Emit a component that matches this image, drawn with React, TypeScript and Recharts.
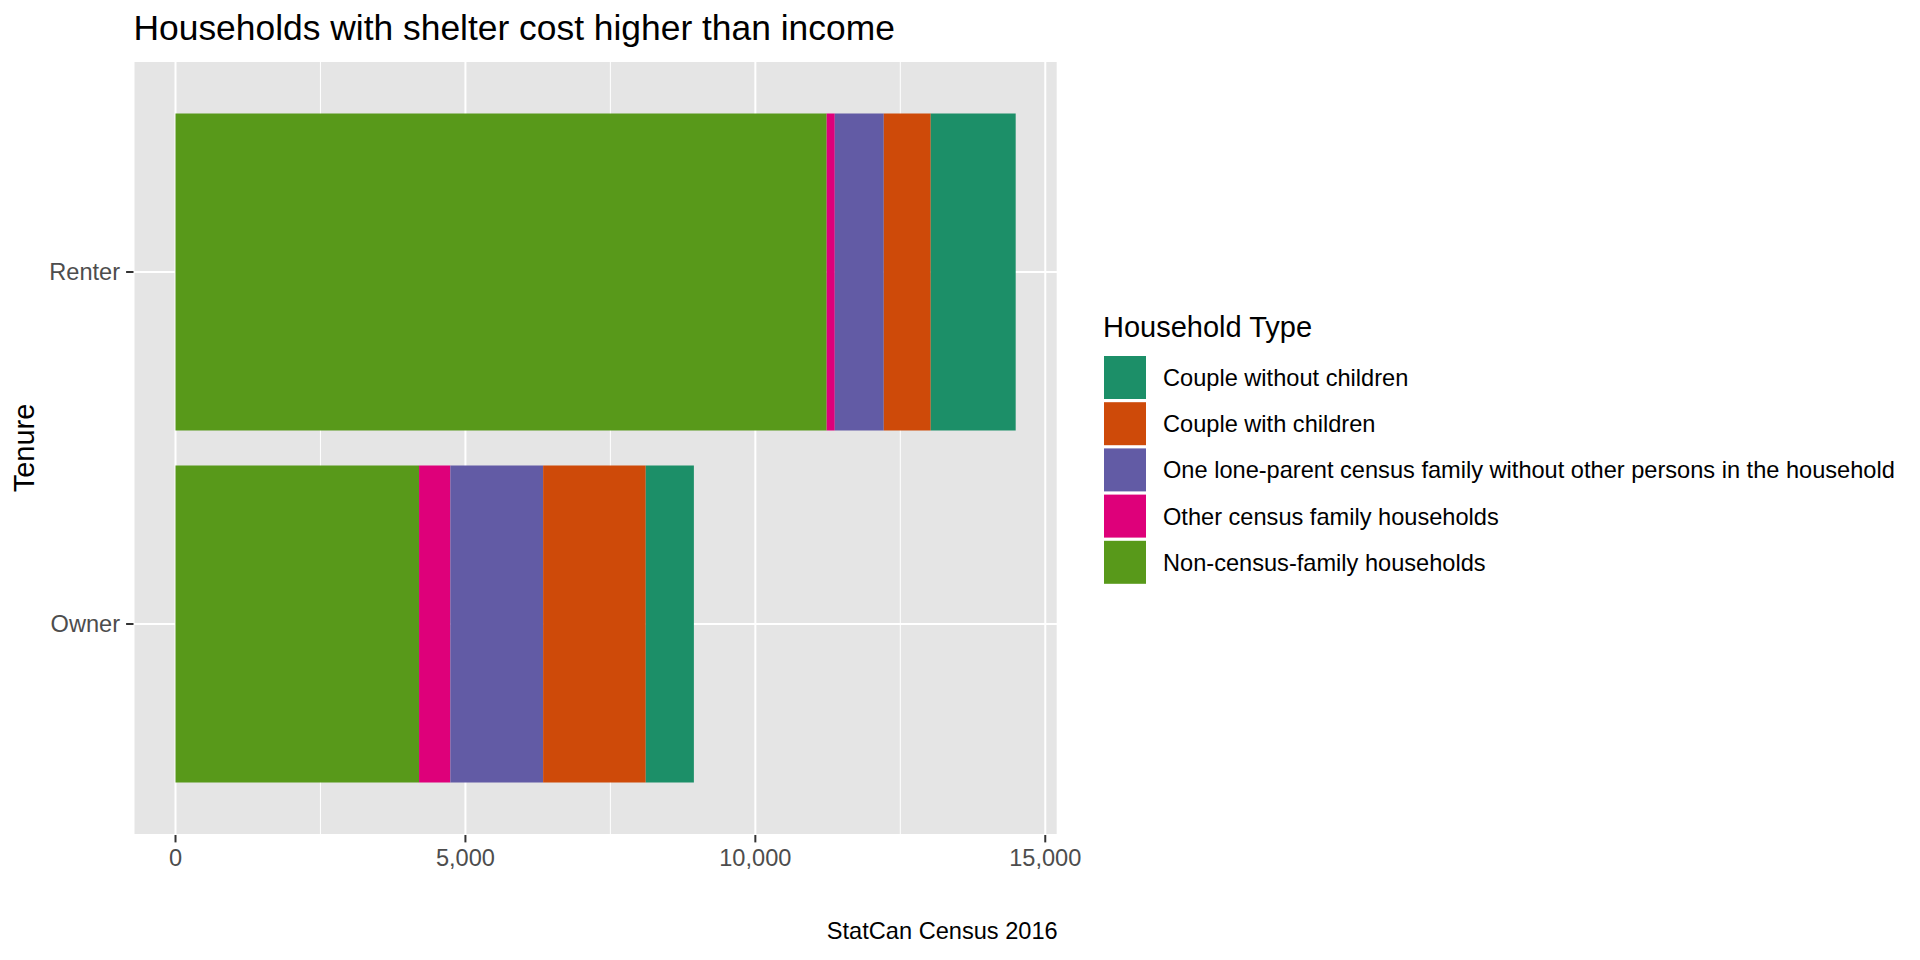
import { Bar, BarChart, CartesianGrid, XAxis, YAxis } from "recharts";

const tenures = ["Renter", "Owner"];
const nonCensusFamily = [11230, 4200];
const otherCensusFamily = [140, 540];
const loneParent = [845, 1600];
const coupleWithChildren = [810, 1770];
const coupleWithoutChildren = [1465, 830];

const xTicks = [0, 5000, 10000, 15000];
const xMinorTicks = [2500, 7500, 12500];

const FONT = '"Liberation Sans", Arial, Helvetica, sans-serif';

// stacking order: first entry sits next to zero
const series = [
  { key: "nonCensus", name: "Non-census-family households", color: "#58991A", values: nonCensusFamily },
  { key: "otherFamily", name: "Other census family households", color: "#DE007A", values: otherCensusFamily },
  { key: "loneParent", name: "One lone-parent census family without other persons in the household", color: "#625BA5", values: loneParent },
  { key: "coupleWith", name: "Couple with children", color: "#CE4A09", values: coupleWithChildren },
  { key: "coupleWithout", name: "Couple without children", color: "#1C8F68", values: coupleWithoutChildren },
];
const legendItems = [...series].reverse();

const data = tenures.map((tenure, i) => {
  const row: Record<string, string | number> = { tenure };
  series.forEach((s) => {
    row[s.key] = s.values[i];
  });
  return row;
});

// ggplot-style 5% expansion around [0, max stack]
const maxTotal = Math.max(...tenures.map((_, i) => series.reduce((sum, s) => sum + s.values[i], 0)));
const xDomain: [number, number] = [-maxTotal * 0.05, maxTotal * 1.05];

const fmt = (v: number) => v.toLocaleString("en-US");

const minorLines = ({ xAxis, offset }: any) =>
  xMinorTicks.map((v) =>
    xAxis && typeof xAxis.scale === "function"
      ? xAxis.scale(v)
      : offset.left + ((v - xDomain[0]) / (xDomain[1] - xDomain[0])) * offset.width
  );

export default function App() {
  return (
    <div
      style={{
        position: "absolute",
        left: 0,
        top: 0,
        width: 1920,
        height: 960,
        background: "#ffffff",
        fontFamily: FONT,
      }}
    >
      <BarChart
        width={1920}
        height={960}
        data={data}
        layout="vertical"
        margin={{ top: 61, right: 862.3, bottom: 65, left: 13.5 }}
        barCategoryGap="5%"
      >
        <CartesianGrid
          fill="#E5E5E5"
          stroke="#FFFFFF"
          strokeWidth={1}
          horizontal={false}
          verticalCoordinatesGenerator={minorLines}
        />
        <CartesianGrid stroke="#FFFFFF" strokeWidth={2} />
        <XAxis
          type="number"
          domain={xDomain}
          ticks={xTicks}
          interval={0}
          tickFormatter={fmt}
          axisLine={false}
          tickLine={{ stroke: "#333333", strokeWidth: 2 }}
          tickSize={7.4}
          tickMargin={6.6}
          height={60}
          tick={{ fill: "#4D4D4D", fontSize: 23.6, fontFamily: FONT }}
        />
        <YAxis
          type="category"
          dataKey="tenure"
          width={120}
          padding={{ top: 35, bottom: 35 }}
          axisLine={false}
          tickLine={{ stroke: "#333333", strokeWidth: 2 }}
          tickSize={7.4}
          tickMargin={6}
          tick={{ fill: "#4D4D4D", fontSize: 23.6, fontFamily: FONT }}
        />
        {series.map((s) => (
          <Bar
            key={s.key}
            dataKey={s.key}
            name={s.name}
            stackId="tenure"
            fill={s.color}
            isAnimationActive={false}
          />
        ))}
      </BarChart>

      <svg
        width={1920}
        height={960}
        style={{ position: "absolute", left: 0, top: 0, pointerEvents: "none" }}
        fontFamily={FONT}
      >
        <text x={133.5} y={40} fontSize={35.4} fill="#000000">
          Households with shelter cost higher than income
        </text>
        <text
          x={33.5}
          y={448}
          fontSize={29}
          fill="#000000"
          textAnchor="middle"
          transform="rotate(-90, 33.5, 448)"
        >
          Tenure
        </text>
        <text x={1057.7} y={939} fontSize={23.6} fill="#000000" textAnchor="end">
          StatCan Census 2016
        </text>

        <text x={1103} y={337} fontSize={29} fill="#000000">
          Household Type
        </text>
        {legendItems.map((s, i) => {
          const top = 356 + i * 46.2;
          return (
            <g key={s.key}>
              <rect x={1104} y={top} width={42} height={43} fill={s.color} />
              <text x={1163} y={top + 21.5} dy="0.36em" fontSize={23.6} fill="#000000">
                {s.name}
              </text>
            </g>
          );
        })}
      </svg>
    </div>
  );
}
